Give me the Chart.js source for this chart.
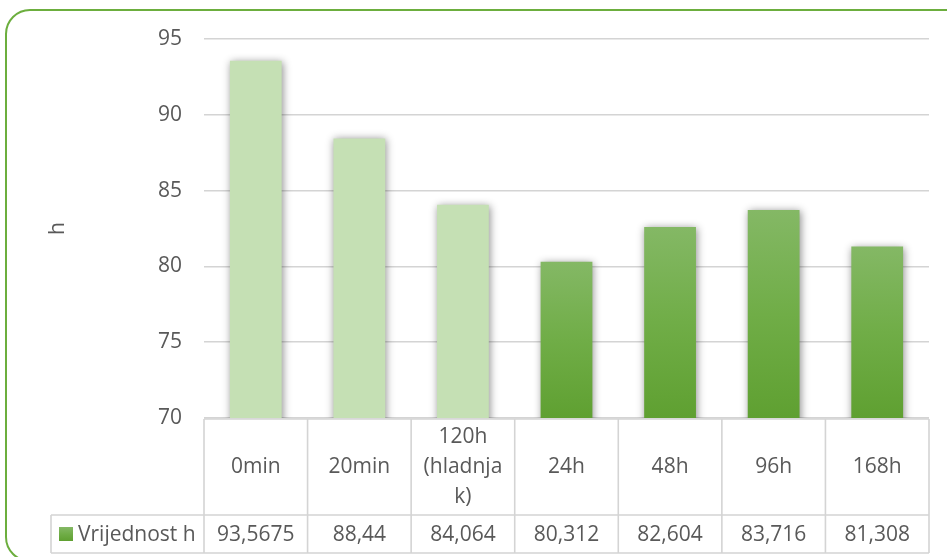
<!DOCTYPE html>
<html>
<head>
<meta charset="utf-8">
<script src="https://cdn.jsdelivr.net/npm/chart.js@4.4.0/dist/chart.umd.min.js"></script>
<style>
  html, body { margin: 0; padding: 0; background: #ffffff; }
  #wrap { width: 947px; height: 557px; position: relative; }
</style>
</head>
<body>
<div id="wrap"><canvas id="chart" width="947" height="557"></canvas></div>
<script>
const categories = ['0min', '20min', ['120h', '(hladnja', 'k)'], '24h', '48h', '96h', '168h'];
const values = [93.5675, 88.44, 84.064, 80.312, 82.604, 83.716, 81.308];
const lightBars = [true, true, true, false, false, false, false];
const seriesName = 'Vrijednost h';
const yTicks = [70, 75, 80, 85, 90, 95];

const textColor = '#595959';
const lineColor = '#d4d4d4';
const fontFamily = '"Open Sans", "DejaVu Sans", sans-serif';
const fontSize = 21;

function greenGradient(ctx, top, bottom) {
  const g = ctx.createLinearGradient(0, top, 0, bottom);
  g.addColorStop(0, '#84b865');
  g.addColorStop(0.5, '#70ad47');
  g.addColorStop(1, '#5fa031');
  return g;
}

// rounded green frame around the chart
const framePlugin = {
  id: 'frame',
  beforeDraw(chart) {
    const c = chart.ctx;
    c.save();
    c.strokeStyle = '#6cae3e';
    c.lineWidth = 2;
    c.beginPath();
    c.roundRect(6, 10, 980, 551, 24);
    c.stroke();
    c.restore();
  }
};

// soft shadow under the bars, like the Excel original
const shadowPlugin = {
  id: 'barShadow',
  beforeDatasetsDraw(chart) {
    const c = chart.ctx;
    c.save();
    c.shadowColor = 'rgba(0,0,0,0.45)';
    c.shadowBlur = 8;
    c.shadowOffsetX = 1;
    c.shadowOffsetY = 1;
  },
  afterDatasetsDraw(chart) {
    chart.ctx.restore();
  }
};

// data table under the plot
const tablePlugin = {
  id: 'dataTable',
  afterDraw(chart) {
    const c = chart.ctx;
    const x = chart.scales.x;
    const area = chart.chartArea;
    const step = x.getPixelForValue(1) - x.getPixelForValue(0);
    const top = area.bottom + 1;
    const mid = 515;
    const bottom = 553;
    const legendLeft = 51;

    c.save();
    c.strokeStyle = lineColor;
    c.lineWidth = 1.6;
    c.beginPath();
    c.moveTo(area.left, top); c.lineTo(area.right, top);
    c.moveTo(legendLeft, mid); c.lineTo(area.right, mid);
    c.moveTo(legendLeft, bottom); c.lineTo(area.right, bottom);
    c.moveTo(legendLeft, mid); c.lineTo(legendLeft, bottom);
    for (let i = 0; i <= categories.length; i++) {
      const bx = x.getPixelForValue(i) - step / 2;
      c.moveTo(bx, top); c.lineTo(bx, bottom);
    }
    c.stroke();

    c.fillStyle = textColor;
    c.font = fontSize + 'px ' + fontFamily;
    c.textAlign = 'center';
    c.textBaseline = 'middle';
    const lh = 30;
    categories.forEach((cat, i) => {
      const lines = Array.isArray(cat) ? cat : [cat];
      const cx = x.getPixelForValue(i);
      const cy = (top + mid) / 2;
      lines.forEach((ln, j) => {
        c.fillText(ln, cx, cy + (j - (lines.length - 1) / 2) * lh);
      });
      c.fillText(values[i].toString().replace('.', ','), cx, (mid + bottom) / 2 + 1);
    });

    // legend key
    const ky = (mid + bottom) / 2;
    c.fillStyle = greenGradient(c, ky - 7, ky + 7);
    c.fillRect(59, ky - 7, 14, 14);
    c.fillStyle = textColor;
    c.textAlign = 'left';
    c.fillText(seriesName, 78, ky + 1);
    c.restore();
  }
};

const ctx = document.getElementById('chart').getContext('2d');

new Chart(ctx, {
  type: 'bar',
  data: {
    labels: categories,
    datasets: [{
      label: seriesName,
      data: values,
      barPercentage: 0.5,
      categoryPercentage: 1,
      backgroundColor: context => {
        if (lightBars[context.dataIndex]) return '#c5e0b4';
        const chart = context.chart;
        const area = chart.chartArea;
        if (!area) return '#70ad47';
        const top = chart.scales.y.getPixelForValue(values[context.dataIndex]);
        return greenGradient(chart.ctx, top, area.bottom);
      },
      borderWidth: 0
    }]
  },
  options: {
    responsive: false,
    animation: false,
    layout: { padding: { left: 41, right: 18, top: 39, bottom: 139 } },
    plugins: {
      legend: { display: false },
      tooltip: { enabled: false }
    },
    scales: {
      x: { display: false },
      y: {
        min: 70,
        max: 95,
        afterBuildTicks: scale => { scale.ticks = yTicks.map(v => ({ value: v })); },
        afterFit: scale => { scale.width = 163; },
        border: { display: false },
        grid: { color: lineColor, lineWidth: 1.6, drawTicks: false },
        ticks: {
          color: textColor,
          padding: 22,
          font: { family: fontFamily, size: fontSize }
        },
        title: {
          display: true,
          text: 'h',
          color: textColor,
          padding: 4,
          font: { family: fontFamily, size: fontSize }
        }
      }
    }
  },
  plugins: [framePlugin, shadowPlugin, tablePlugin]
});
</script>
</body>
</html>
